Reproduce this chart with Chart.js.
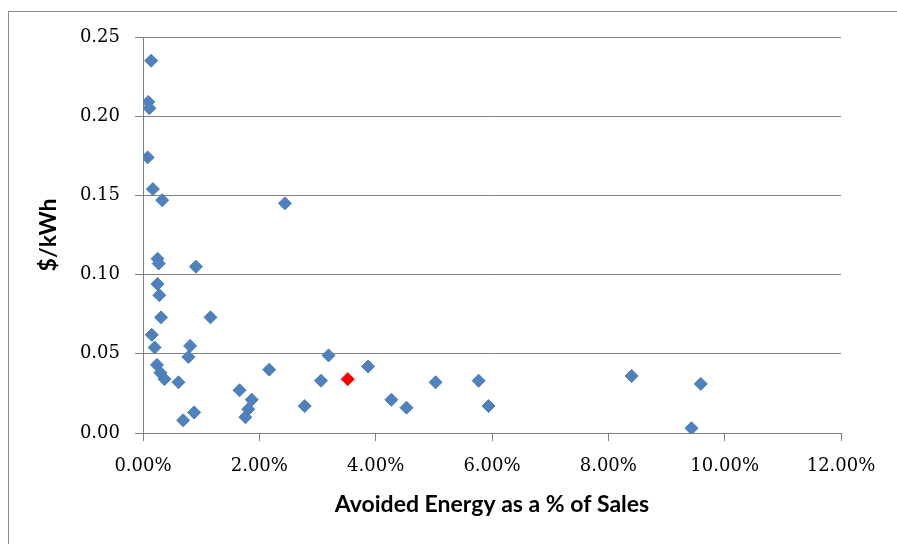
<!DOCTYPE html>
<html>
<head>
<meta charset="utf-8">
<script src="https://cdn.jsdelivr.net/npm/chart.js@4/dist/chart.umd.min.js"></script>
<style>
  html, body { margin: 0; padding: 0; background: #ffffff; overflow: hidden; }
  #frame {
    position: absolute; left: 8px; top: 11px; width: 1000px; height: 1000px;
    border-left: 1px solid #8c8c8c; border-top: 1px solid #8c8c8c;
  }
  #chart { position: absolute; left: 0; top: 0; }
</style>
</head>
<body>
<div id="frame"></div>
<canvas id="chart" width="897" height="544"></canvas>
<script>
// Avoided energy (% of sales) and cost ($/kWh) for each program
const savingsPct = [
  0.14, 0.09, 0.11, 0.08, 0.17, 0.33, 2.44, 0.25, 0.27, 0.91,
  0.25, 0.28, 0.31, 1.16, 0.15, 0.20, 0.81, 0.78, 0.24, 0.30,
  0.37, 0.61, 0.69, 0.88, 2.17, 1.66, 1.87, 1.81, 1.76, 2.78,
  3.06, 3.19, 3.87, 4.27, 4.53, 5.03, 5.77, 5.94, 8.40, 9.59,
  9.43
];
const costPerKWh = [
  0.235, 0.209, 0.205, 0.174, 0.154, 0.147, 0.145, 0.110, 0.107, 0.105,
  0.094, 0.087, 0.073, 0.073, 0.062, 0.054, 0.055, 0.048, 0.043, 0.038,
  0.034, 0.032, 0.008, 0.013, 0.040, 0.027, 0.021, 0.015, 0.010, 0.017,
  0.033, 0.049, 0.042, 0.021, 0.016, 0.032, 0.033, 0.017, 0.036, 0.031,
  0.003
];
// Highlighted program
const highlightPct = [3.52];
const highlightCost = [0.034];

const xTicks = [0, 2, 4, 6, 8, 10, 12];
const yTicks = [0, 0.05, 0.10, 0.15, 0.20, 0.25];

const toPoints = (xs, ys) => xs.map((x, i) => ({ x: x, y: ys[i] }));

const gridGrey = '#808080';
const tickFont = { family: 'DejaVu Serif', size: 18 };
const titleFont = { family: 'Lato', size: 23, weight: 'bold' };

new Chart(document.getElementById('chart'), {
  type: 'scatter',
  data: {
    datasets: [
      {
        label: 'Highlight',
        data: toPoints(highlightPct, highlightCost),
        pointStyle: 'rectRot',
        pointRadius: 6.5,
        pointBackgroundColor: '#ff0000',
        pointBorderColor: '#ff0000',
        pointBorderWidth: 1,
        order: 0
      },
      {
        label: 'Programs',
        data: toPoints(savingsPct, costPerKWh),
        pointStyle: 'rectRot',
        pointRadius: 6.5,
        pointBackgroundColor: '#4f81bd',
        pointBorderColor: '#4a7ebb',
        pointBorderWidth: 1,
        order: 1
      }
    ]
  },
  options: {
    responsive: false,
    animation: false,
    layout: { padding: { left: 0, right: 56, top: 37, bottom: 0 } },
    plugins: {
      legend: { display: false },
      tooltip: { enabled: false }
    },
    scales: {
      x: {
        type: 'linear',
        min: 0,
        max: 12,
        afterBuildTicks: (s) => { s.ticks = xTicks.map(v => ({ value: v })); },
        afterFit: (s) => { s.height = 111; },
        ticks: {
          color: '#000000',
          font: tickFont,
          padding: 15,
          maxRotation: 0,
          callback: (v) => Number(v).toFixed(2) + '%'
        },
        grid: {
          drawOnChartArea: false,
          drawTicks: true,
          tickLength: 8,
          color: gridGrey,
          lineWidth: 1
        },
        border: { display: true, color: gridGrey, width: 1 },
        title: {
          display: true,
          text: 'Avoided Energy as a % of Sales',
          color: '#000000',
          font: titleFont,
          padding: { top: 0, bottom: 26 }
        }
      },
      y: {
        type: 'linear',
        min: 0,
        max: 0.25,
        afterBuildTicks: (s) => { s.ticks = yTicks.map(v => ({ value: v })); },
        afterFit: (s) => { s.width = 143; },
        ticks: {
          color: '#000000',
          font: tickFont,
          padding: 15,
          callback: (v) => Number(v).toFixed(2)
        },
        grid: {
          drawOnChartArea: true,
          drawTicks: true,
          tickLength: 8,
          color: gridGrey,
          lineWidth: 1
        },
        border: { display: true, color: gridGrey, width: 1 },
        title: {
          display: true,
          text: '$/kWh',
          color: '#000000',
          font: titleFont,
          padding: { top: 35, bottom: 0 }
        }
      }
    }
  }
});
</script>
</body>
</html>
